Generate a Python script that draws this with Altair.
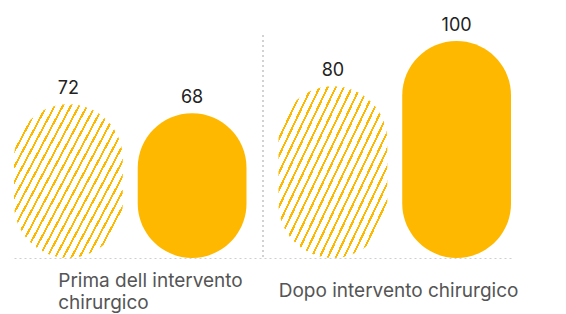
import altair as alt
import pandas as pd

groups = ["Prima dell intervento chirurgico", "Dopo intervento chirurgico"]
series = ["Previsto", "Effettivo"]
values_prima = [72, 68]
values_dopo = [80, 100]

rows = []
for s, v in zip(series, values_prima):
    rows.append({"gruppo": groups[0], "serie": s, "valore": v})
for s, v in zip(series, values_dopo):
    rows.append({"gruppo": groups[1], "serie": s, "valore": v})
df = pd.DataFrame(rows)

YELLOW = "#FFB800"
N = 21
duty = 0.27
stops = []
for i in range(N):
    a = i / N
    b = (i + duty) / N
    stops += [
        {"offset": a, "color": "#ffffff"},
        {"offset": a, "color": YELLOW},
        {"offset": b, "color": YELLOW},
        {"offset": b, "color": "#ffffff"},
    ]
stops.append({"offset": 1, "color": "#ffffff"})
hatch = alt.Gradient(gradient="linear", stops=stops, x1=0, y1=0, x2=1, y2=0.75)

first = f"datum.value == '{groups[0]}'"
x_enc = alt.X(
    "gruppo:N",
    sort=groups,
    scale=alt.Scale(paddingInner=0.121, paddingOuter=0),
    axis=alt.Axis(
        title=None,
        ticks=False,
        domain=True,
        domainColor="#cfcfcf",
        domainDash=[2, 3],
        domainWidth=1,
        labelAngle=0,
        labelAlign="left",
        labelBaseline="middle",
        labelFont="Inter",
        labelFontSize=19,
        labelColor="#555555",
        labelLineHeight=22,
        labelPadding={"condition": {"test": first, "value": 22}, "value": 32},
        labelLimit=400,
        labelOffset={"condition": {"test": first, "value": -72}, "value": -116},
        labelExpr=f"datum.label == '{groups[0]}' ? ['Prima dell intervento', 'chirurgico'] : datum.label",
    ),
)
xo_enc = alt.XOffset("serie:N", sort=series, scale=alt.Scale(domain=series, paddingInner=0.121, paddingOuter=0))
y_enc = alt.Y("valore:Q", scale=alt.Scale(domain=[4, 100], zero=False, nice=False), axis=None)

base = alt.Chart(df).encode(x=x_enc, xOffset=xo_enc, y=y_enc)

hatched = base.transform_filter(alt.datum.serie == series[0]).mark_bar(
    fill=hatch, cornerRadius=55
).encode(y2=alt.datum(4))
solid = base.transform_filter(alt.datum.serie == series[1]).mark_bar(
    fill=YELLOW, cornerRadius=55
).encode(y2=alt.datum(4))

labels = base.mark_text(
    font="Inter", fontSize=18, color="#222222", baseline="alphabetic", dy=-10
).encode(text=alt.Text("valore:Q"))

sep = alt.Chart(df).mark_rule(color="#cfcfcf", strokeDash=[2, 3], strokeWidth=1).encode(
    x=alt.value(249), y=alt.value(-6), y2=alt.value(217)
)

chart = alt.layer(sep, hatched, solid, labels).properties(
    width=497,
    height=217,
    background="white",
    autosize=alt.AutoSizeParams(type="none"),
    padding={"left": 6, "top": 33, "right": 40, "bottom": 56},
).configure_view(stroke=None, strokeWidth=0)

chart.save("out.html", embed_options={"renderer": "svg", "actions": False})
